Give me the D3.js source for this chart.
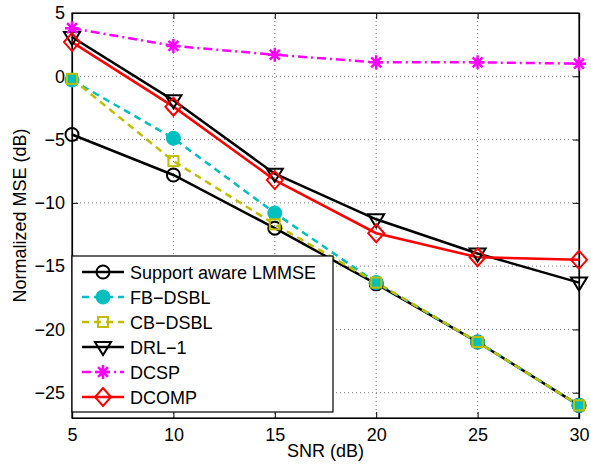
<!DOCTYPE html>
<html>
<head>
<meta charset="utf-8">
<script src="https://cdn.jsdelivr.net/npm/d3@7"></script>
<style>
  body { margin: 0; background: #fff; }
  text { font-family: "Liberation Sans", Arial, sans-serif; }
</style>
</head>
<body>
<div id="chart"></div>
<script>
// SNR values on the x axis
var snr = [5, 10, 15, 20, 25, 30];
var yTicks = [5, 0, -5, -10, -15, -20, -25];

// each series
var lmmse = [-4.6, -7.8, -12.0, -16.4, -21.0, -26.0];
var fbDsbl = [-0.3, -4.9, -10.8, -16.3, -21.0, -26.0];
var cbDsbl = [-0.2, -6.7, -11.7, -16.3, -21.0, -26.0];
var drl1 = [3.1, -1.9, -7.7, -11.3, -14.0, -16.3];
var dcsp = [3.8, 2.4, 1.7, 1.1, 1.1, 1.0];
var dcomp = [2.7, -2.4, -8.2, -12.4, -14.3, -14.5];

var seriesNames = ['Support aware LMMSE', 'FB\u2212DSBL', 'CB\u2212DSBL', 'DRL\u22121', 'DCSP', 'DCOMP'];

var width = 591;
var height = 465;
var margin = { left: 72, right: 12, top: 13, bottom: 47 };

var series = [
  { name: seriesNames[0], values: lmmse, color: '#000', dash: null, marker: 'circle' },
  { name: seriesNames[1], values: fbDsbl, color: '#00bfbf', dash: '7,5', marker: 'dot' },
  { name: seriesNames[2], values: cbDsbl, color: '#bfbf00', dash: '7,5', marker: 'square' },
  { name: seriesNames[3], values: drl1, color: '#000', dash: null, marker: 'tri' },
  { name: seriesNames[4], values: dcsp, color: '#ff00ff', dash: '9,4,2,4', marker: 'star' },
  { name: seriesNames[5], values: dcomp, color: '#ff0000', dash: null, marker: 'diamond' }
];

var svg = d3.select('#chart')
  .append('svg')
  .attr('width', width)
  .attr('height', height);

var x = d3.scaleLinear().domain([5, 30]).range([margin.left, width - margin.right]);
var y = d3.scaleLinear().domain([-27, 5]).range([height - margin.bottom, margin.top]);

var x0 = x.range()[0], x1 = x.range()[1];
var y0 = y.range()[0], y1 = y.range()[1];

// dotted grid
svg.append('g').selectAll('line')
  .data(snr.slice(1, -1))
  .enter().append('line')
  .attr('x1', function(d) { return x(d); })
  .attr('x2', function(d) { return x(d); })
  .attr('y1', y1).attr('y2', y0)
  .attr('stroke', '#555').attr('stroke-width', 0.8)
  .attr('stroke-dasharray', '1,3');

svg.append('g').selectAll('line')
  .data(yTicks.slice(1))
  .enter().append('line')
  .attr('x1', x0).attr('x2', x1)
  .attr('y1', function(d) { return y(d); })
  .attr('y2', function(d) { return y(d); })
  .attr('stroke', '#555').attr('stroke-width', 0.8)
  .attr('stroke-dasharray', '1,3');

// axes, ticks pointing inward, matlab box style
svg.append('g')
  .attr('transform', 'translate(0,' + y0 + ')')
  .call(d3.axisBottom(x).tickValues(snr).tickSize(-6).tickPadding(10));
svg.append('g')
  .attr('transform', 'translate(0,' + y1 + ')')
  .call(d3.axisTop(x).tickValues(snr).tickSize(-6).tickFormat(''));
svg.append('g')
  .attr('transform', 'translate(' + x0 + ',0)')
  .call(d3.axisLeft(y).tickValues(yTicks).tickSize(-6).tickPadding(7)
    .tickFormat(function(d) { return d < 0 ? '\u2212' + (-d) : d; }));
svg.append('g')
  .attr('transform', 'translate(' + x1 + ',0)')
  .call(d3.axisRight(y).tickValues(yTicks).tickSize(-6).tickFormat(''));

svg.selectAll('.domain').attr('stroke', '#000').attr('stroke-width', 1.2);
svg.selectAll('.tick line').attr('stroke', '#000');
svg.selectAll('.tick text').attr('font-size', 18).attr('fill', '#000');

svg.append('rect')
  .attr('x', x0).attr('y', y1)
  .attr('width', x1 - x0).attr('height', y0 - y1)
  .attr('fill', 'none').attr('stroke', '#000').attr('stroke-width', 1.2);

// axis labels
svg.append('text')
  .attr('x', (x0 + x1) / 2).attr('y', 457)
  .attr('text-anchor', 'middle').attr('font-size', 18)
  .text('SNR (dB)');
svg.append('text')
  .attr('transform', 'translate(26,' + ((y0 + y1) / 2) + ') rotate(-90)')
  .attr('text-anchor', 'middle').attr('font-size', 18)
  .text('Normalized MSE (dB)');

function drawMarker(g, s, cx, cy) {
  var c = s.color;
  if (s.marker === 'circle') {
    g.append('circle').attr('cx', cx).attr('cy', cy).attr('r', 6.5)
      .attr('fill', 'none').attr('stroke', c).attr('stroke-width', 2);
  } else if (s.marker === 'dot') {
    g.append('circle').attr('cx', cx).attr('cy', cy).attr('r', 7)
      .attr('fill', c).attr('stroke', c).attr('stroke-width', 1);
  } else if (s.marker === 'square') {
    g.append('rect').attr('x', cx - 5).attr('y', cy - 5).attr('width', 10).attr('height', 10)
      .attr('fill', 'none').attr('stroke', c).attr('stroke-width', 2);
  } else if (s.marker === 'tri') {
    g.append('path')
      .attr('d', 'M' + (cx - 8) + ',' + (cy - 5) + 'L' + (cx + 8) + ',' + (cy - 5) + 'L' + cx + ',' + (cy + 8) + 'Z')
      .attr('fill', 'none').attr('stroke', c).attr('stroke-width', 2);
  } else if (s.marker === 'star') {
    var r = 7, d = '';
    for (var k = 0; k < 4; k++) {
      var a = k * Math.PI / 4;
      d += 'M' + (cx - r * Math.cos(a)) + ',' + (cy - r * Math.sin(a)) +
        'L' + (cx + r * Math.cos(a)) + ',' + (cy + r * Math.sin(a));
    }
    g.append('path').attr('d', d).attr('stroke', c).attr('stroke-width', 2.5);
  } else if (s.marker === 'diamond') {
    g.append('path')
      .attr('d', 'M' + cx + ',' + (cy - 9) + 'L' + (cx + 8) + ',' + cy + 'L' + cx + ',' + (cy + 9) + 'L' + (cx - 8) + ',' + cy + 'Z')
      .attr('fill', 'none').attr('stroke', c).attr('stroke-width', 2);
  }
}

var line = d3.line()
  .x(function(d, i) { return x(snr[i]); })
  .y(function(d) { return y(d); });

var plot = svg.append('g');
series.forEach(function(s) {
  plot.append('path')
    .attr('d', line(s.values))
    .attr('fill', 'none')
    .attr('stroke', s.color)
    .attr('stroke-width', 2.5)
    .attr('stroke-dasharray', s.dash);
});
series.forEach(function(s) {
  var g = plot.append('g');
  s.values.forEach(function(v, i) { drawMarker(g, s, x(snr[i]), y(v)); });
});

// legend
var lg = svg.append('g');
lg.append('rect')
  .attr('x', x0).attr('y', 256)
  .attr('width', 261).attr('height', 156)
  .attr('fill', '#fff').attr('stroke', '#000').attr('stroke-width', 1.2);

series.forEach(function(s, i) {
  var ly = 272 + i * 25;
  lg.append('line')
    .attr('x1', 82).attr('x2', 124)
    .attr('y1', ly).attr('y2', ly)
    .attr('stroke', s.color).attr('stroke-width', 2.5)
    .attr('stroke-dasharray', s.dash);
  drawMarker(lg, s, 103, ly);
  lg.append('text')
    .attr('x', 130).attr('y', ly + 6.5)
    .attr('font-size', 18)
    .text(s.name);
});
</script>
</body>
</html>
